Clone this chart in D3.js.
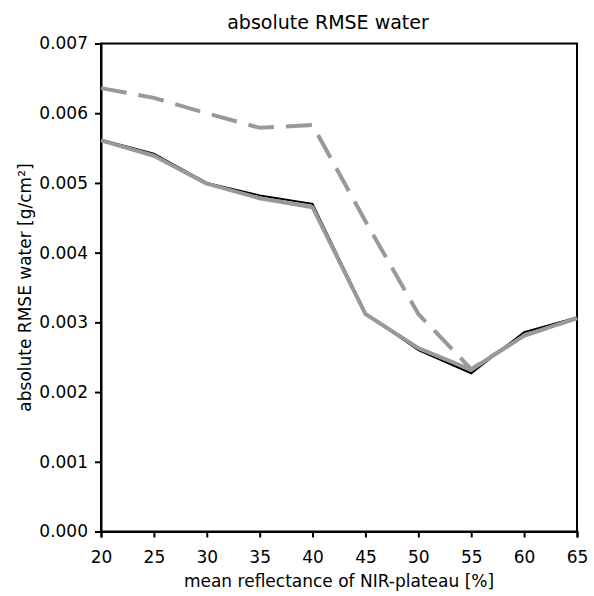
<!DOCTYPE html>
<html><head><meta charset="utf-8">
<script src="https://cdn.jsdelivr.net/npm/d3@7"></script>
<style>body{margin:0;background:#fff;} text{font-family:"DejaVu Sans",Verdana,sans-serif;}</style>
</head><body>
<svg id="c" width="594" height="596"></svg>
<script>
const xValues = [20, 25, 30, 35, 40, 45, 50, 55, 60, 65];
const blackSolid = [0.00562, 0.00542, 0.00500, 0.00482, 0.00470, 0.00313, 0.00260, 0.00227, 0.00286, 0.00307];
const graySolid  = [0.00561, 0.00539, 0.00499, 0.00478, 0.00465, 0.00312, 0.00263, 0.00232, 0.00281, 0.00306];
const grayDashed = [0.00636, 0.00622, 0.00600, 0.00579, 0.00583, 0.00445, 0.00312, 0.00233, 0.00281, 0.00306];
const yTicks = [0, 0.001, 0.002, 0.003, 0.004, 0.005, 0.006, 0.007];
const xTicks = [20, 25, 30, 35, 40, 45, 50, 55, 60, 65];

const svg = d3.select("#c");
const m = {l:101, r:577, t:43.5, b:531.5};
const x = d3.scaleLinear().domain([20,65]).range([m.l, m.r]);
const y = d3.scaleLinear().domain([0,0.007]).range([m.b, m.t]);

svg.append("rect").attr("x",m.l).attr("y",m.t).attr("width",m.r-m.l).attr("height",m.b-m.t)
  .attr("fill","none").attr("stroke","#000").attr("stroke-width",2);

const ya = svg.append("g").attr("transform",`translate(${m.l},0)`)
  .call(d3.axisLeft(y).tickValues(yTicks).tickFormat(d3.format(".3f")).tickSize(6).tickPadding(7));
const xa = svg.append("g").attr("transform",`translate(0,${m.b})`)
  .call(d3.axisBottom(x).tickValues(xTicks).tickFormat(d3.format("d")).tickSize(6).tickPadding(13));
[ya,xa].forEach(a=>{
  a.select(".domain").attr("stroke","#000").attr("stroke-width",2);
  a.selectAll(".tick line").attr("stroke","#000").attr("stroke-width",2);
  a.selectAll("text").attr("fill","#000").style("font-size","17px").style("font-family","DejaVu Sans");
});

const line = d3.line().x((d,i)=>x(xValues[i])).y(d=>y(d));
svg.append("path").datum(grayDashed).attr("d",line).attr("fill","none")
  .attr("stroke","#999").attr("stroke-width",4).attr("stroke-dasharray","26,12");
svg.append("path").datum(blackSolid).attr("d",line).attr("fill","none")
  .attr("stroke","#000").attr("stroke-width",2);
svg.append("path").datum(graySolid).attr("d",line).attr("fill","none")
  .attr("stroke","#999").attr("stroke-width",4).attr("stroke-linejoin","round");

svg.append("text").attr("x",328).attr("y",29).attr("text-anchor","middle")
  .style("font-size","19px").text("absolute RMSE water");
svg.append("text").attr("x",(m.l+m.r)/2).attr("y",587).attr("text-anchor","middle")
  .style("font-size","17px").text("mean reflectance of NIR-plateau [%]");
svg.append("text").attr("transform",`translate(31,${(m.t+m.b)/2}) rotate(-90)`).attr("text-anchor","middle")
  .style("font-size","17px").text("absolute RMSE water [g/cm²]");
</script>
</body></html>
